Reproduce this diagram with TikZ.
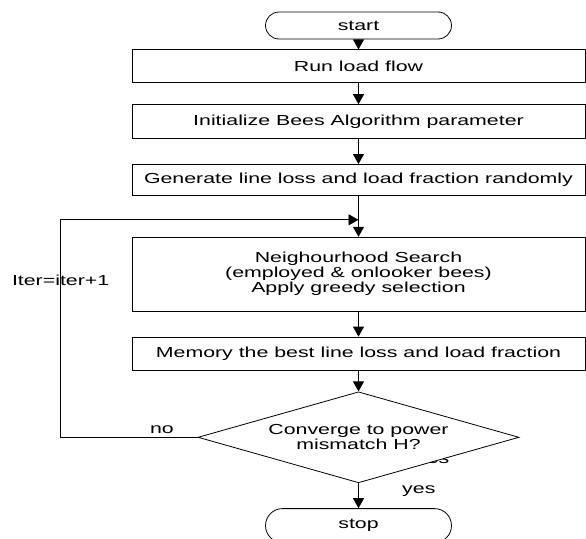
\documentclass[tikz,border=0pt]{standalone}
\usepackage{fontspec}
\setmainfont[FakeStretch=1.47]{Liberation Sans}
\usetikzlibrary{positioning, arrows.meta, shapes.geometric, shapes.misc, backgrounds}

\begin{document}
\begin{tikzpicture}[
		font=\fontsize{14.5}{15}\selectfont,
		box/.style={draw, line width=0.8pt, minimum width=453pt, inner sep=2pt, align=center},
		term/.style={draw, line width=0.8pt, rounded rectangle, minimum width=190pt, inner sep=2pt},
		flow/.style={line width=0.8pt, -{Triangle[width=11pt,length=10pt]}}
	]
	\useasboundingbox (0,0) rectangle (586pt,-538pt);
	
	\node[term, minimum height=27pt] (Start) at (358.5pt,-25.5pt) {start};
	\node[box, minimum height=33pt, below=10pt of Start] (Run) {Run load flow};
	\node[box, minimum height=34pt, below=21pt of Run] (Init) {Initialize Bees Algorithm parameter};
	\node[box, minimum height=31pt, below=25pt of Init] (Gen) {Generate line loss and load fraction randomly};
	\node[box, minimum height=74pt, below=41pt of Gen] (Search) {Neighourhood Search\\(employed \& onlooker bees)\\Apply greedy selection};
	\node[box, minimum height=33pt, below=25pt of Search] (Mem) {Memory the best line loss and load fraction};
	\node[draw, diamond, aspect=3.5, line width=0.8pt, fill=white, inner sep=0pt, minimum width=321pt, minimum height=91pt, align=center, below=21pt of Mem] (Conv) {Converge to power\\mismatch H?};
	\node[term, minimum height=34pt, below=25pt of Conv] (Stop) {stop};
	\coordinate[below=24pt of Gen.south] (J);
	
	\begin{scope}[on background layer]
		\node[anchor=base east, inner sep=2pt] (Hidden) at ([xshift=93pt,yshift=-26pt]Conv.center) {yes};
	\end{scope}
	
	\draw[flow] (Start) -- (Run);
	\draw[flow] (Run) -- (Init);
	\draw[flow] (Init) -- (Gen);
	\draw[flow] (Gen) -- (Search);
	\draw[flow] (Search) -- (Mem);
	\draw[flow] (Mem) -- (Conv);
	\draw[flow] (Conv) -- node[pos=0.32, right=40pt] {yes} (Stop);
	\draw[flow] (Conv.west) -- node[above, pos=0.26] {no} ++(-137pt,0) |- node[pos=0.36] {Iter=iter+1} (J);
\end{tikzpicture}
\end{document}
